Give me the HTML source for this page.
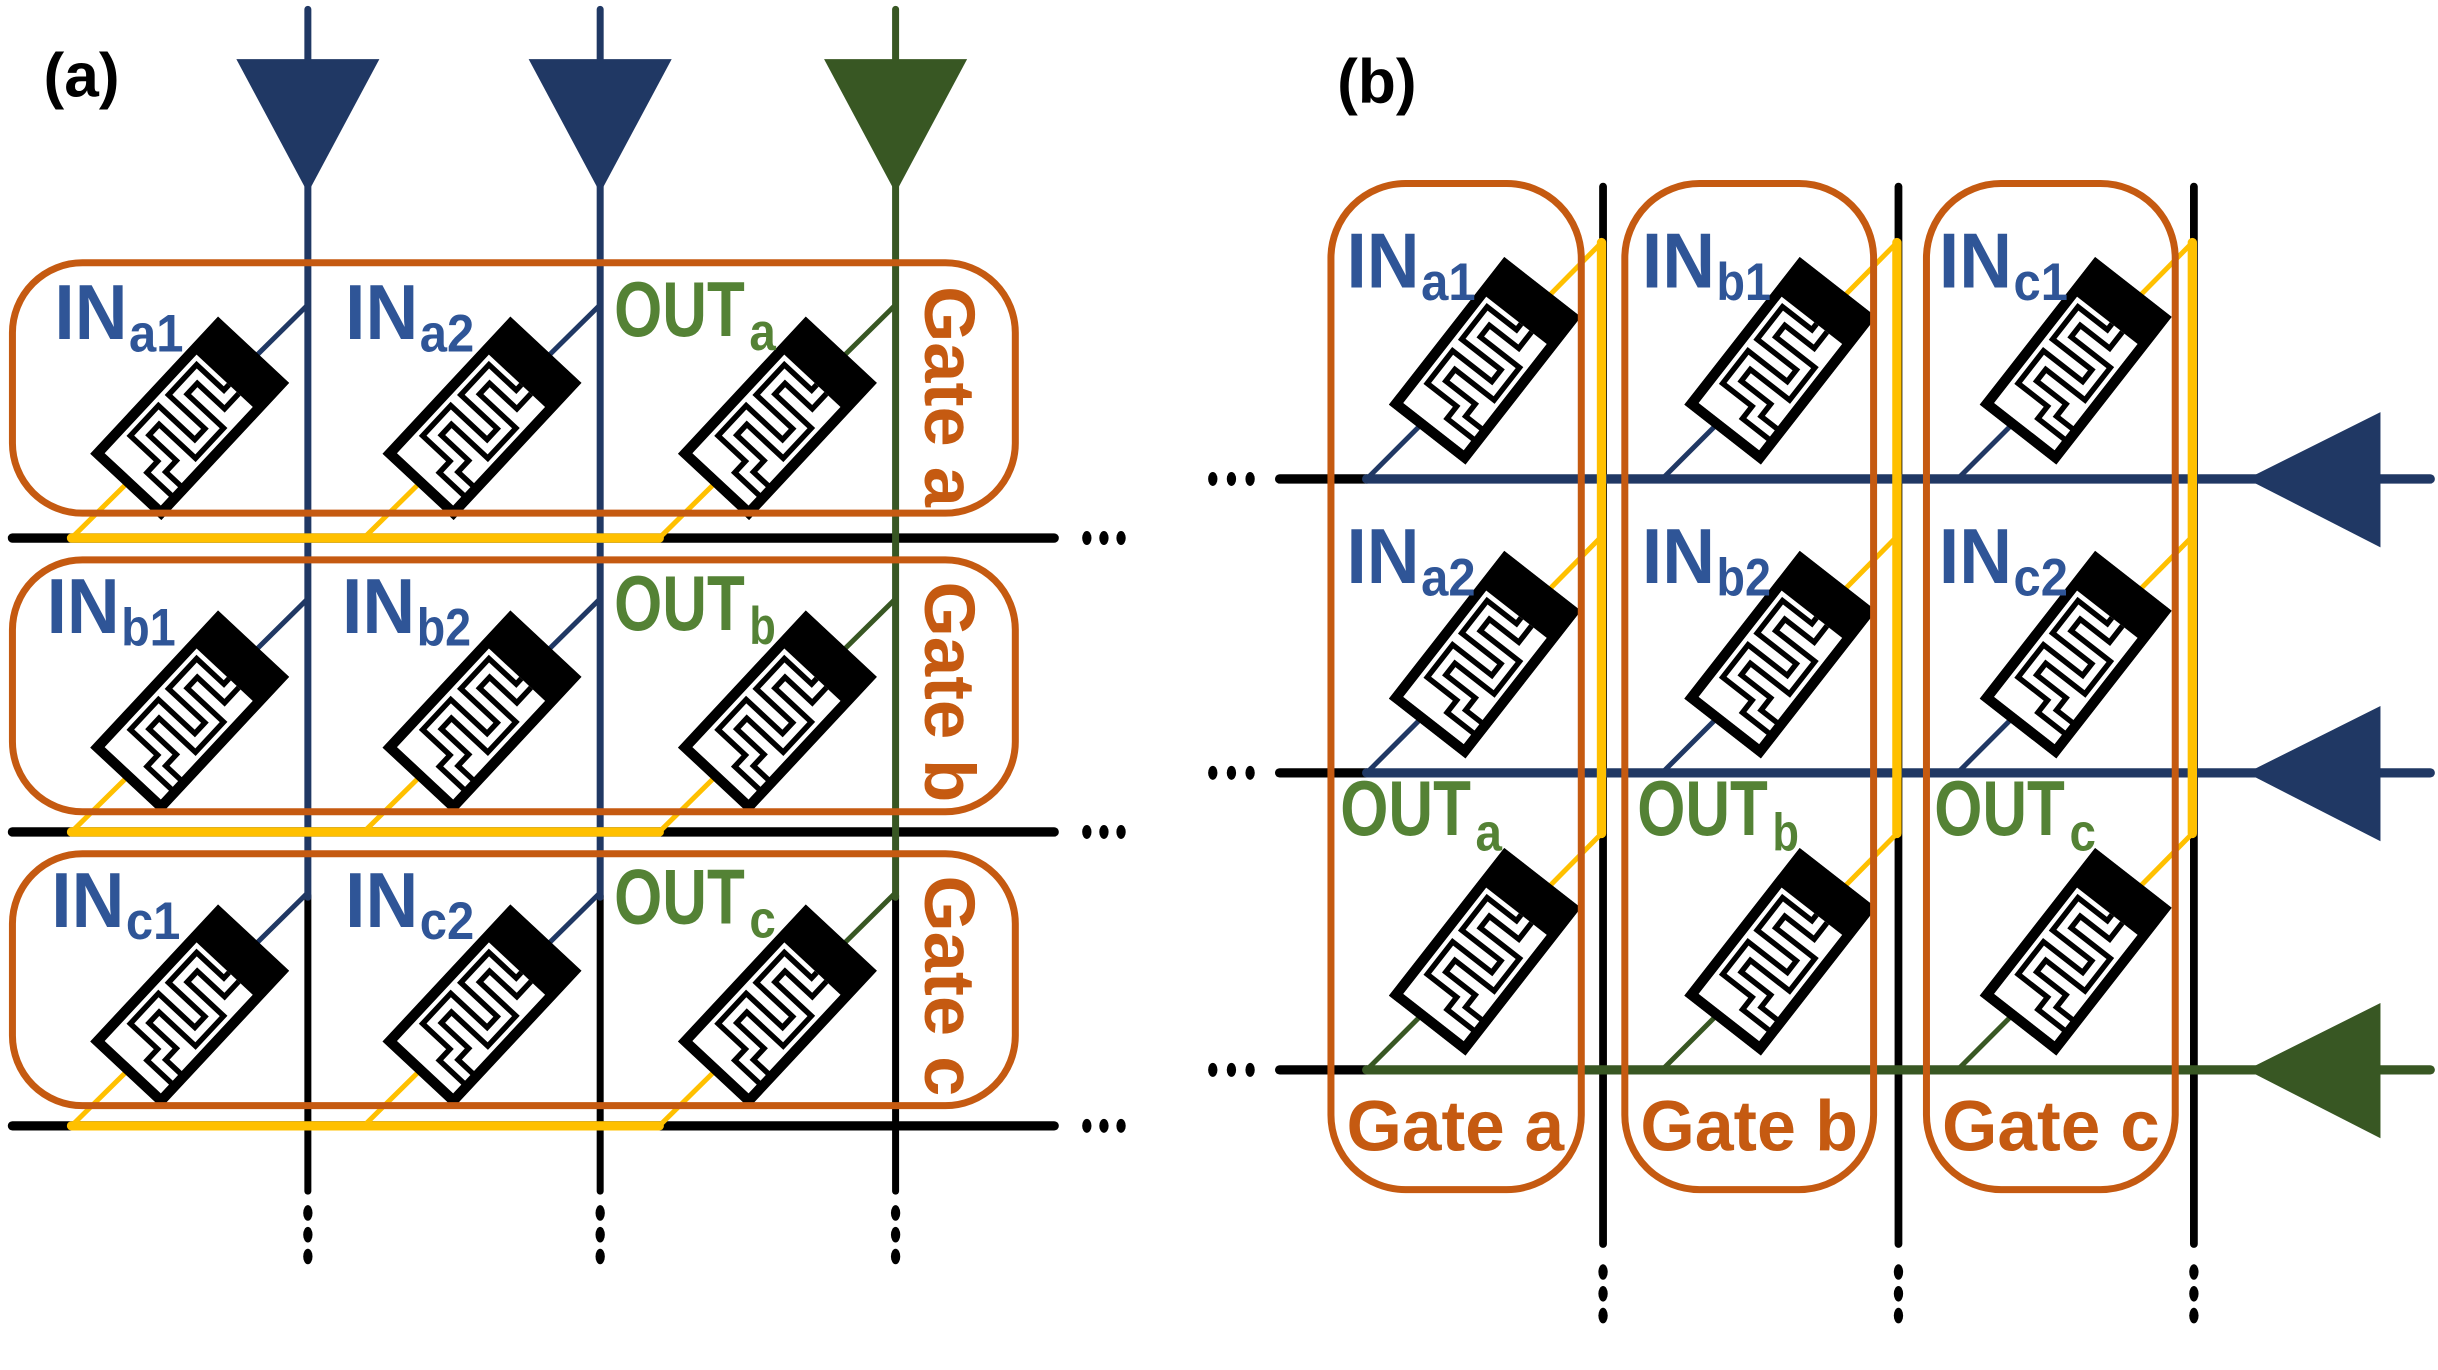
<!DOCTYPE html>
<html><head><meta charset="utf-8"><style>
html,body{margin:0;padding:0;background:#fff;}
svg{display:block;}
text{font-family:"Liberation Sans",Arial,sans-serif;font-weight:bold;}
</style></head><body>
<svg width="2438" height="1370" viewBox="0 0 1568 881" preserveAspectRatio="none" xmlns="http://www.w3.org/2000/svg">
<defs>
<g id="res">
  <rect x="-57" y="-28" width="114" height="56" fill="#fff" stroke="#000" stroke-width="6.5"/>
  <rect x="33" y="-28" width="24" height="56" fill="#000"/>
  <path d="M33,8 H24 V-16 H6 V16 H-12 V-16 H-30 V8 H-40 V28" fill="none" stroke="#000" stroke-width="12" stroke-linejoin="miter"/>
  <path d="M33,8 H24 V-16 H6 V16 H-12 V-16 H-30 V8 H-40 V28" fill="none" stroke="#fff" stroke-width="5" stroke-linejoin="miter"/>
  <rect x="-57" y="-28" width="114" height="56" fill="none" stroke="#000" stroke-width="6.5"/>
</g>
</defs>

<!-- ================= PANEL A ================= -->
<text x="28" y="62" font-size="40" fill="#000">(a)</text>

<g stroke="#000" stroke-width="6" stroke-linecap="round">
  <line x1="8" y1="346" x2="678" y2="346"/>
  <line x1="8" y1="535" x2="678" y2="535"/>
  <line x1="8" y1="724" x2="678" y2="724"/>
</g>
<g fill="#000">
  <ellipse cx="699" cy="346" rx="3" ry="4.5"/><ellipse cx="710" cy="346" rx="3" ry="4.5"/><ellipse cx="721" cy="346" rx="3" ry="4.5"/>
  <ellipse cx="699" cy="535" rx="3" ry="4.5"/><ellipse cx="710" cy="535" rx="3" ry="4.5"/><ellipse cx="721" cy="535" rx="3" ry="4.5"/>
  <ellipse cx="699" cy="724" rx="3" ry="4.5"/><ellipse cx="710" cy="724" rx="3" ry="4.5"/><ellipse cx="721" cy="724" rx="3" ry="4.5"/>
</g>

<g stroke="#000" stroke-width="4.5" stroke-linecap="round">
  <line x1="198" y1="576" x2="198" y2="766"/>
  <line x1="386" y1="576" x2="386" y2="766"/>
  <line x1="576" y1="576" x2="576" y2="766"/>
</g>
<g fill="#000">
  <ellipse cx="198" cy="780" rx="3" ry="5"/><ellipse cx="198" cy="794" rx="3" ry="5"/><ellipse cx="198" cy="808" rx="3" ry="5"/>
  <ellipse cx="386" cy="780" rx="3" ry="5"/><ellipse cx="386" cy="794" rx="3" ry="5"/><ellipse cx="386" cy="808" rx="3" ry="5"/>
  <ellipse cx="576" cy="780" rx="3" ry="5"/><ellipse cx="576" cy="794" rx="3" ry="5"/><ellipse cx="576" cy="808" rx="3" ry="5"/>
</g>
<line x1="198" y1="6" x2="198" y2="577" stroke="#203864" stroke-width="4.5" stroke-linecap="round"/>
<line x1="386" y1="6" x2="386" y2="577" stroke="#203864" stroke-width="4.5" stroke-linecap="round"/>
<line x1="576" y1="6" x2="576" y2="577" stroke="#385723" stroke-width="4.5" stroke-linecap="round"/>
<polygon points="152,38 244,38 198,124" fill="#203864"/>
<polygon points="340,38 432,38 386,124" fill="#203864"/>
<polygon points="530,38 622,38 576,124" fill="#385723"/>

<g stroke="#FFC000" stroke-width="6" stroke-linecap="round">
  <line x1="46" y1="346" x2="424" y2="346"/>
  <line x1="46" y1="535" x2="424" y2="535"/>
  <line x1="46" y1="724" x2="424" y2="724"/>
</g>

<g stroke-width="3.2">
  <line x1="46" y1="346" x2="122" y2="271" stroke="#FFC000"/><line x1="122" y1="271" x2="198" y2="196" stroke="#203864"/>
  <line x1="234" y1="346" x2="310" y2="271" stroke="#FFC000"/><line x1="310" y1="271" x2="386" y2="196" stroke="#203864"/>
  <line x1="424" y1="346" x2="500" y2="271" stroke="#FFC000"/><line x1="500" y1="271" x2="576" y2="196" stroke="#385723"/>
  <line x1="46" y1="535" x2="122" y2="460" stroke="#FFC000"/><line x1="122" y1="460" x2="198" y2="385" stroke="#203864"/>
  <line x1="234" y1="535" x2="310" y2="460" stroke="#FFC000"/><line x1="310" y1="460" x2="386" y2="385" stroke="#203864"/>
  <line x1="424" y1="535" x2="500" y2="460" stroke="#FFC000"/><line x1="500" y1="460" x2="576" y2="385" stroke="#385723"/>
  <line x1="46" y1="724" x2="122" y2="649" stroke="#FFC000"/><line x1="122" y1="649" x2="198" y2="574" stroke="#203864"/>
  <line x1="234" y1="724" x2="310" y2="649" stroke="#FFC000"/><line x1="310" y1="649" x2="386" y2="574" stroke="#203864"/>
  <line x1="424" y1="724" x2="500" y2="649" stroke="#FFC000"/><line x1="500" y1="649" x2="576" y2="574" stroke="#385723"/>
</g>

<use href="#res" transform="translate(122,269) rotate(-47)"/>
<use href="#res" transform="translate(310,269) rotate(-47)"/>
<use href="#res" transform="translate(500,269) rotate(-47)"/>
<use href="#res" transform="translate(122,458) rotate(-47)"/>
<use href="#res" transform="translate(310,458) rotate(-47)"/>
<use href="#res" transform="translate(500,458) rotate(-47)"/>
<use href="#res" transform="translate(122,647) rotate(-47)"/>
<use href="#res" transform="translate(310,647) rotate(-47)"/>
<use href="#res" transform="translate(500,647) rotate(-47)"/>

<g fill="none" stroke="#C55A11" stroke-width="4.5">
  <rect x="8" y="169" width="645" height="161" rx="45"/>
  <rect x="8" y="360" width="645" height="162" rx="45"/>
  <rect x="8" y="549" width="645" height="162" rx="45"/>
</g>
<g fill="#C55A11" font-size="46">
  <text transform="translate(595,184) rotate(90)" textLength="142" lengthAdjust="spacingAndGlyphs">Gate a</text>
  <text transform="translate(595,374) rotate(90)" textLength="142" lengthAdjust="spacingAndGlyphs">Gate b</text>
  <text transform="translate(595,563) rotate(90)" textLength="142" lengthAdjust="spacingAndGlyphs">Gate c</text>
</g>

<g fill="#2F5597">
  <text x="35" y="218" font-size="50" textLength="47" lengthAdjust="spacingAndGlyphs">IN</text><text x="83" y="226" font-size="34" textLength="35" lengthAdjust="spacingAndGlyphs">a1</text>
  <text x="222" y="218" font-size="50" textLength="47" lengthAdjust="spacingAndGlyphs">IN</text><text x="270" y="226" font-size="34" textLength="35" lengthAdjust="spacingAndGlyphs">a2</text>
  <text x="30" y="407" font-size="50" textLength="47" lengthAdjust="spacingAndGlyphs">IN</text><text x="78" y="415" font-size="34" textLength="35" lengthAdjust="spacingAndGlyphs">b1</text>
  <text x="220" y="407" font-size="50" textLength="47" lengthAdjust="spacingAndGlyphs">IN</text><text x="268" y="415" font-size="34" textLength="35" lengthAdjust="spacingAndGlyphs">b2</text>
  <text x="33" y="596" font-size="50" textLength="47" lengthAdjust="spacingAndGlyphs">IN</text><text x="81" y="604" font-size="34" textLength="35" lengthAdjust="spacingAndGlyphs">c1</text>
  <text x="222" y="596" font-size="50" textLength="47" lengthAdjust="spacingAndGlyphs">IN</text><text x="270" y="604" font-size="34" textLength="35" lengthAdjust="spacingAndGlyphs">c2</text>
</g>
<g fill="#548235">
  <text x="395" y="216" font-size="50" textLength="84" lengthAdjust="spacingAndGlyphs">OUT</text><text x="482" y="225" font-size="34" textLength="17" lengthAdjust="spacingAndGlyphs">a</text>
  <text x="395" y="405" font-size="50" textLength="84" lengthAdjust="spacingAndGlyphs">OUT</text><text x="482" y="414" font-size="34" textLength="17" lengthAdjust="spacingAndGlyphs">b</text>
  <text x="395" y="594" font-size="50" textLength="84" lengthAdjust="spacingAndGlyphs">OUT</text><text x="482" y="603" font-size="34" textLength="17" lengthAdjust="spacingAndGlyphs">c</text>
</g>

<!-- ================= PANEL B ================= -->
<text x="860" y="66" font-size="40" fill="#000">(b)</text>

<g stroke="#000" stroke-width="5" stroke-linecap="round">
  <line x1="1031" y1="120" x2="1031" y2="800"/>
  <line x1="1221" y1="120" x2="1221" y2="800"/>
  <line x1="1411" y1="120" x2="1411" y2="800"/>
</g>
<g fill="#000">
  <ellipse cx="1031" cy="818" rx="3" ry="5"/><ellipse cx="1031" cy="832" rx="3" ry="5"/><ellipse cx="1031" cy="846" rx="3" ry="5"/>
  <ellipse cx="1221" cy="818" rx="3" ry="5"/><ellipse cx="1221" cy="832" rx="3" ry="5"/><ellipse cx="1221" cy="846" rx="3" ry="5"/>
  <ellipse cx="1411" cy="818" rx="3" ry="5"/><ellipse cx="1411" cy="832" rx="3" ry="5"/><ellipse cx="1411" cy="846" rx="3" ry="5"/>
</g>
<g stroke="#000" stroke-width="6" stroke-linecap="round">
  <line x1="823" y1="308" x2="879" y2="308"/>
  <line x1="823" y1="497" x2="879" y2="497"/>
  <line x1="823" y1="688" x2="879" y2="688"/>
</g>
<g fill="#000">
  <ellipse cx="780" cy="308" rx="3" ry="4.5"/><ellipse cx="792" cy="308" rx="3" ry="4.5"/><ellipse cx="804" cy="308" rx="3" ry="4.5"/>
  <ellipse cx="780" cy="497" rx="3" ry="4.5"/><ellipse cx="792" cy="497" rx="3" ry="4.5"/><ellipse cx="804" cy="497" rx="3" ry="4.5"/>
  <ellipse cx="780" cy="688" rx="3" ry="4.5"/><ellipse cx="792" cy="688" rx="3" ry="4.5"/><ellipse cx="804" cy="688" rx="3" ry="4.5"/>
</g>
<line x1="879" y1="308" x2="1563" y2="308" stroke="#203864" stroke-width="6" stroke-linecap="round"/>
<line x1="879" y1="497" x2="1563" y2="497" stroke="#203864" stroke-width="6" stroke-linecap="round"/>
<line x1="879" y1="688" x2="1563" y2="688" stroke="#385723" stroke-width="6" stroke-linecap="round"/>
<polygon points="1445,308 1531,265 1531,352" fill="#203864"/>
<polygon points="1445,497 1531,454 1531,541" fill="#203864"/>
<polygon points="1445,688 1531,645 1531,732" fill="#385723"/>

<g stroke="#FFC000" stroke-width="6" stroke-linecap="round">
  <line x1="1030" y1="156" x2="1030" y2="536"/>
  <line x1="1220" y1="156" x2="1220" y2="536"/>
  <line x1="1410" y1="156" x2="1410" y2="536"/>
</g>

<g stroke-width="3.2">
  <line x1="879" y1="308" x2="955" y2="232" stroke="#203864"/><line x1="955" y1="232" x2="1030" y2="156" stroke="#FFC000"/>
  <line x1="1069" y1="308" x2="1145" y2="232" stroke="#203864"/><line x1="1145" y1="232" x2="1220" y2="156" stroke="#FFC000"/>
  <line x1="1259" y1="308" x2="1335" y2="232" stroke="#203864"/><line x1="1335" y1="232" x2="1410" y2="156" stroke="#FFC000"/>
  <line x1="879" y1="497" x2="955" y2="421" stroke="#203864"/><line x1="955" y1="421" x2="1030" y2="345" stroke="#FFC000"/>
  <line x1="1069" y1="497" x2="1145" y2="421" stroke="#203864"/><line x1="1145" y1="421" x2="1220" y2="345" stroke="#FFC000"/>
  <line x1="1259" y1="497" x2="1335" y2="421" stroke="#203864"/><line x1="1335" y1="421" x2="1410" y2="345" stroke="#FFC000"/>
  <line x1="879" y1="688" x2="955" y2="612" stroke="#385723"/><line x1="955" y1="612" x2="1030" y2="536" stroke="#FFC000"/>
  <line x1="1069" y1="688" x2="1145" y2="612" stroke="#385723"/><line x1="1145" y1="612" x2="1220" y2="536" stroke="#FFC000"/>
  <line x1="1259" y1="688" x2="1335" y2="612" stroke="#385723"/><line x1="1335" y1="612" x2="1410" y2="536" stroke="#FFC000"/>
</g>

<use href="#res" transform="translate(955,232) rotate(-52)"/>
<use href="#res" transform="translate(1145,232) rotate(-52)"/>
<use href="#res" transform="translate(1335,232) rotate(-52)"/>
<use href="#res" transform="translate(955,421) rotate(-52)"/>
<use href="#res" transform="translate(1145,421) rotate(-52)"/>
<use href="#res" transform="translate(1335,421) rotate(-52)"/>
<use href="#res" transform="translate(955,612) rotate(-52)"/>
<use href="#res" transform="translate(1145,612) rotate(-52)"/>
<use href="#res" transform="translate(1335,612) rotate(-52)"/>

<g fill="none" stroke="#C55A11" stroke-width="4.5">
  <rect x="856" y="118" width="161" height="647" rx="48"/>
  <rect x="1045" y="118" width="160" height="647" rx="48"/>
  <rect x="1239" y="118" width="160" height="647" rx="48"/>
</g>
<g fill="#C55A11" font-size="46">
  <text x="866" y="740" textLength="140" lengthAdjust="spacingAndGlyphs">Gate a</text>
  <text x="1055" y="740" textLength="140" lengthAdjust="spacingAndGlyphs">Gate b</text>
  <text x="1249" y="740" textLength="140" lengthAdjust="spacingAndGlyphs">Gate c</text>
</g>

<g fill="#2F5597">
  <text x="866" y="185" font-size="50" textLength="47" lengthAdjust="spacingAndGlyphs">IN</text><text x="914" y="193" font-size="34" textLength="35" lengthAdjust="spacingAndGlyphs">a1</text>
  <text x="1056" y="185" font-size="50" textLength="47" lengthAdjust="spacingAndGlyphs">IN</text><text x="1104" y="193" font-size="34" textLength="35" lengthAdjust="spacingAndGlyphs">b1</text>
  <text x="1247" y="185" font-size="50" textLength="47" lengthAdjust="spacingAndGlyphs">IN</text><text x="1295" y="193" font-size="34" textLength="35" lengthAdjust="spacingAndGlyphs">c1</text>
  <text x="866" y="375" font-size="50" textLength="47" lengthAdjust="spacingAndGlyphs">IN</text><text x="914" y="383" font-size="34" textLength="35" lengthAdjust="spacingAndGlyphs">a2</text>
  <text x="1056" y="375" font-size="50" textLength="47" lengthAdjust="spacingAndGlyphs">IN</text><text x="1104" y="383" font-size="34" textLength="35" lengthAdjust="spacingAndGlyphs">b2</text>
  <text x="1247" y="375" font-size="50" textLength="47" lengthAdjust="spacingAndGlyphs">IN</text><text x="1295" y="383" font-size="34" textLength="35" lengthAdjust="spacingAndGlyphs">c2</text>
</g>
<g fill="#548235">
  <text x="862" y="537" font-size="50" textLength="84" lengthAdjust="spacingAndGlyphs">OUT</text><text x="949" y="547" font-size="34" textLength="17" lengthAdjust="spacingAndGlyphs">a</text>
  <text x="1053" y="537" font-size="50" textLength="84" lengthAdjust="spacingAndGlyphs">OUT</text><text x="1140" y="547" font-size="34" textLength="17" lengthAdjust="spacingAndGlyphs">b</text>
  <text x="1244" y="537" font-size="50" textLength="84" lengthAdjust="spacingAndGlyphs">OUT</text><text x="1331" y="547" font-size="34" textLength="17" lengthAdjust="spacingAndGlyphs">c</text>
</g>
</svg>
</body></html>
